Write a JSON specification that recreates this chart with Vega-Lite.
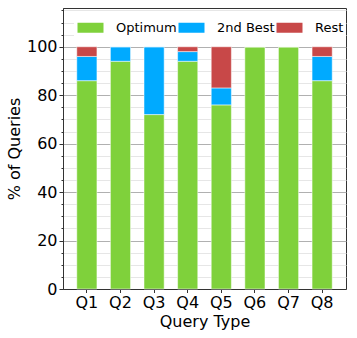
{
  "$schema": "https://vega.github.io/schema/vega-lite/v6.json",
  "autosize": "none",
  "padding": {"left": 63, "top": 8, "right": 11, "bottom": 49},
  "width": 283,
  "height": 281,
  "background": "white",
  "config": {
    "font": "DejaVu Sans",
    "view": {"stroke": "#333333", "strokeWidth": 1},
    "axis": {
      "domainColor": "#333333",
      "tickColor": "#333333",
      "labelColor": "black",
      "titleColor": "black",
      "labelFont": "DejaVu Sans",
      "titleFont": "DejaVu Sans",
      "labelFontSize": 16,
      "titleFontSize": 16,
      "titleFontWeight": "normal"
    }
  },
  "data": {
    "values": [
      {"q": "Q1", "cat": "Optimum", "o": 1, "v": 86},
      {"q": "Q1", "cat": "2nd Best", "o": 2, "v": 10},
      {"q": "Q1", "cat": "Rest", "o": 3, "v": 4},
      {"q": "Q2", "cat": "Optimum", "o": 1, "v": 94},
      {"q": "Q2", "cat": "2nd Best", "o": 2, "v": 6},
      {"q": "Q2", "cat": "Rest", "o": 3, "v": 0},
      {"q": "Q3", "cat": "Optimum", "o": 1, "v": 72},
      {"q": "Q3", "cat": "2nd Best", "o": 2, "v": 28},
      {"q": "Q3", "cat": "Rest", "o": 3, "v": 0},
      {"q": "Q4", "cat": "Optimum", "o": 1, "v": 94},
      {"q": "Q4", "cat": "2nd Best", "o": 2, "v": 4},
      {"q": "Q4", "cat": "Rest", "o": 3, "v": 2},
      {"q": "Q5", "cat": "Optimum", "o": 1, "v": 76},
      {"q": "Q5", "cat": "2nd Best", "o": 2, "v": 7},
      {"q": "Q5", "cat": "Rest", "o": 3, "v": 17},
      {"q": "Q6", "cat": "Optimum", "o": 1, "v": 100},
      {"q": "Q6", "cat": "2nd Best", "o": 2, "v": 0},
      {"q": "Q6", "cat": "Rest", "o": 3, "v": 0},
      {"q": "Q7", "cat": "Optimum", "o": 1, "v": 100},
      {"q": "Q7", "cat": "2nd Best", "o": 2, "v": 0},
      {"q": "Q7", "cat": "Rest", "o": 3, "v": 0},
      {"q": "Q8", "cat": "Optimum", "o": 1, "v": 86},
      {"q": "Q8", "cat": "2nd Best", "o": 2, "v": 10},
      {"q": "Q8", "cat": "Rest", "o": 3, "v": 4}
    ]
  },
  "mark": {"type": "bar", "stroke": "#ffffff", "strokeOpacity": 0.5, "strokeWidth": 1},
  "encoding": {
    "x": {
      "field": "q",
      "type": "nominal",
      "title": "Query Type",
      "scale": {"paddingInner": 0.4, "paddingOuter": 0.41},
      "axis": {"labelAngle": 0, "tickSize": 3.5, "labelPadding": 2, "titlePadding": 3, "grid": false}
    },
    "y": {
      "field": "v",
      "type": "quantitative",
      "stack": "zero",
      "title": "% of Queries",
      "scale": {"domain": [0, 116], "nice": false},
      "axis": {
        "values": [0, 5, 10, 15, 20, 25, 30, 35, 40, 45, 50, 55, 60, 65, 70, 75, 80, 85, 90, 95, 100, 105, 110, 115],
        "labelExpr": "datum.value % 20 === 0 ? datum.label : ''",
        "tickSize": {"condition": {"test": "datum.value % 20 === 0", "value": 4}, "value": 2},
        "grid": true,
        "gridColor": {"condition": {"test": "datum.value % 20 === 0", "value": "#b0b0b0"}, "value": "#e6e6e6"},
        "gridWidth": 1,
        "labelPadding": 2,
        "titlePadding": 4
      }
    },
    "color": {
      "field": "cat",
      "type": "nominal",
      "title": null,
      "scale": {"domain": ["Optimum", "2nd Best", "Rest"], "range": ["#7fd13b", "#00aaff", "#c84848"]},
      "legend": {
        "orient": "none",
        "legendX": 11,
        "legendY": 11,
        "direction": "horizontal",
        "columns": 3,
        "fillColor": "white",
        "padding": 2,
        "symbolType": "M-1,-1H4.2V1H-1Z",
        "symbolSize": 100,
        "symbolStrokeWidth": 0,
        "symbolOpacity": 1,
        "labelOffset": 27,
        "labelFontSize": 13,
        "labelFont": "DejaVu Sans",
        "labelColor": "black",
        "labelLimit": 200,
        "columnPadding": 0
      }
    },
    "order": {"field": "o", "type": "quantitative"}
  }
}
